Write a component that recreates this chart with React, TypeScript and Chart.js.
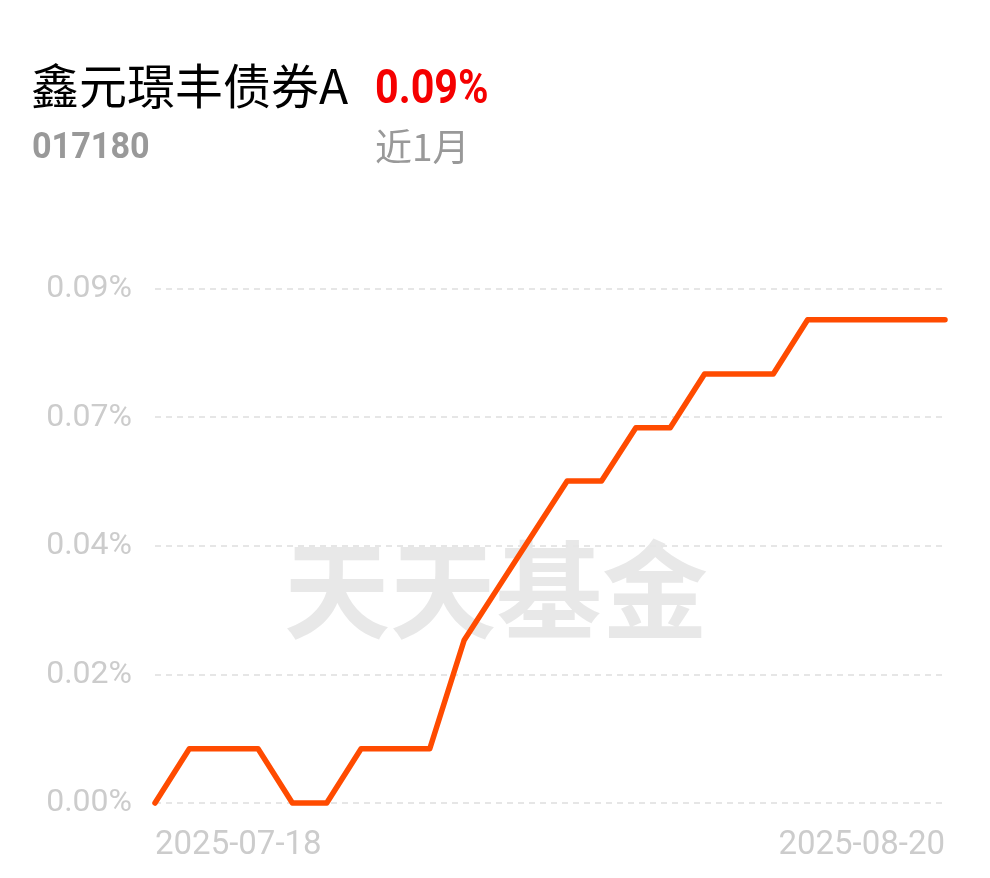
import React, { useEffect, useRef } from "react";
import { Chart, registerables } from "chart.js";

Chart.register(...registerables);

const dates = [
  "2025-07-18", "2025-07-21", "2025-07-22", "2025-07-23", "2025-07-24", "2025-07-25",
  "2025-07-28", "2025-07-29", "2025-07-30", "2025-07-31", "2025-08-01",
  "2025-08-04", "2025-08-05", "2025-08-06", "2025-08-07", "2025-08-08",
  "2025-08-11", "2025-08-12", "2025-08-13", "2025-08-14", "2025-08-15",
  "2025-08-18", "2025-08-19", "2025-08-20",
];

const returns = [
  0, 0.0095, 0.0095, 0.0095, 0, 0,
  0.0095, 0.0095, 0.0095, 0.0285, 0.0378,
  0.0471, 0.0564, 0.0564, 0.0657, 0.0657,
  0.0751, 0.0751, 0.0751, 0.0846, 0.0846,
  0.0846, 0.0846, 0.0846,
];

const yTickLabels = ["0.00%", "0.02%", "0.04%", "0.07%", "0.09%"];

const fundName = "鑫元璟丰债券A";
const fundCode = "017180";
const periodReturn = "0.09%";
const periodLabel = "近1月";
const watermark = "天天基金";

export default function App() {
  const ref = useRef<HTMLCanvasElement | null>(null);

  useEffect(() => {
    if (!ref.current) return;
    const wm = {
      id: "wm",
      beforeDraw(chart: any) {
        const ctx = chart.ctx;
        ctx.save();
        ctx.font = "bold 106px 'Noto Sans CJK SC'";
        ctx.fillStyle = "#e8e8e8";
        ctx.textAlign = "center";
        ctx.textBaseline = "middle";
        ctx.fillText(watermark, 496, 590);
        ctx.restore();
      },
    };
    const chart = new Chart(ref.current, {
      type: "line",
      data: {
        labels: dates,
        datasets: [
          {
            data: returns,
            borderColor: "#ff4b00",
            borderWidth: 5.5,
            pointRadius: 0,
            tension: 0,
            borderCapStyle: "round",
            borderJoinStyle: "round",
            clip: false as any,
          },
        ],
      },
      options: {
        animation: false,
        responsive: false,
        events: [],
        layout: { padding: { top: 289, right: 45, left: 0, bottom: 0 } },
        plugins: { legend: { display: false }, tooltip: { enabled: false } },
        scales: {
          x: {
            afterFit(s: any) { s.height = 75; },
            grid: { display: false, drawTicks: false },
            border: { display: false },
            ticks: {
              autoSkip: false,
              maxRotation: 0,
              align: "inner",
              padding: 23,
              color: "#cccccc",
              font: { family: "Roboto", size: 33 },
              callback: (_v: any, i: number) =>
                i === 0 || i === dates.length - 1 ? dates[i] : "",
            },
          },
          y: {
            min: 0,
            max: 0.09,
            afterFit(s: any) { s.width = 155; },
            afterBuildTicks(s: any) {
              s.ticks = yTickLabels.map((_, i) => ({ value: i * 0.0225 }));
            },
            grid: { color: "#e6e6e6", lineWidth: 2, drawTicks: false },
            border: { display: false, dash: [6, 5] },
            ticks: {
              padding: 23,
              color: "#cccccc",
              font: { family: "Roboto", size: 32 },
              callback: (_v: any, i: number) => yTickLabels[i],
            },
          },
        },
      },
      plugins: [wm],
    });
    return () => chart.destroy();
  }, []);

  return (
    <div style={{ position: "fixed", left: 0, top: 0, width: 990, height: 878, background: "#fff", overflow: "hidden" }}>
      <canvas ref={ref} width={990} height={878} style={{ position: "absolute", left: 0, top: 0, width: 990, height: 878 }} />
      <div style={{ position: "absolute", left: 31, top: 59, fontFamily: "'Noto Sans CJK SC'", fontSize: 48, lineHeight: 1, color: "#000", whiteSpace: "nowrap" }}>{fundName}</div>
      <div style={{ position: "absolute", left: 375, top: 62.6, fontFamily: "Roboto", fontWeight: 700, fontSize: 48, lineHeight: 1, color: "#f50000", whiteSpace: "nowrap", transform: "scaleX(0.86)", transformOrigin: "left center" }}>{periodReturn}</div>
      <div style={{ position: "absolute", left: 32, top: 127.7, fontFamily: "Roboto", fontWeight: 700, fontSize: 36, lineHeight: 1, color: "#999", whiteSpace: "nowrap", transform: "scaleX(0.95)", transformOrigin: "left center" }}>{fundCode}</div>
      <div style={{ position: "absolute", left: 375, top: 127.4, fontFamily: "'Noto Sans CJK SC'", fontSize: 37, lineHeight: 1, color: "#999", whiteSpace: "nowrap" }}>{periodLabel}</div>
    </div>
  );
}
